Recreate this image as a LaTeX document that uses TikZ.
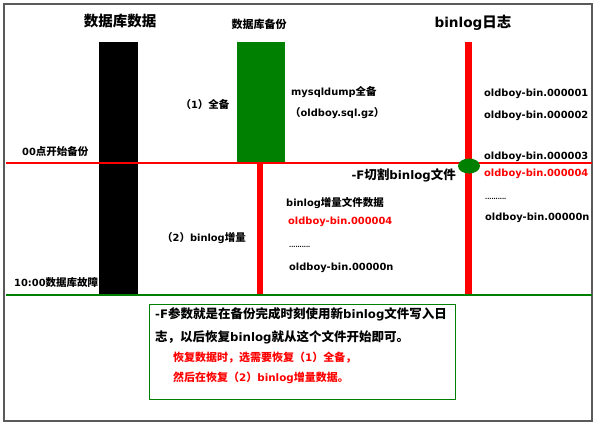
\documentclass[tikz,border=0pt]{standalone}
\usepackage{fontspec}
\setmainfont{Noto Sans CJK SC}
\newfontfamily\lat{DejaVu Sans}[Scale=0.94]
\usetikzlibrary{positioning,shapes.geometric}

\definecolor{dkgreen}{RGB}{0,128,0}
\definecolor{frame}{RGB}{90,90,90}

\begin{document}
\begin{tikzpicture}[x=1pt,y=-1pt]

\tikzset{
    txt/.style={font=\bfseries\fontsize{10.5}{12}\selectfont, inner sep=0pt},
    lefttxt/.style={txt, anchor=west},
    bigtxt/.style={font=\bfseries\fontsize{14.5}{17}\selectfont, inner sep=0pt},
    notetxt/.style={font=\bfseries\fontsize{12.5}{14}\selectfont, inner sep=0pt, anchor=west},
    redtxt/.style={font=\bfseries\fontsize{11}{13}\selectfont, inner sep=0pt, anchor=west, text=red},
    dots/.style={lefttxt, font=\bfseries\fontsize{6}{7}\selectfont},
    bar/.style={inner sep=0pt, anchor=north west},
    redline/.style={draw=red, line width=#1},
    greenline/.style={draw=dkgreen, line width=2pt}
}
\useasboundingbox (0,0) rectangle (597,426);
\draw[frame, line width=1.6pt] (4,4) rectangle (592,421);

% the two bars
\node[bar, fill=black, minimum width=39, minimum height=252] (dbbar) at (99,42) {};
\node[bar, fill=dkgreen, minimum width=48, minimum height=120] (bakbar) at (237,42) {};

% time lines and binlog lines
\coordinate (startL) at (6,163);
\coordinate (startR) at (592,163);
\coordinate (failL) at (6,295);
\coordinate (failR) at (592,295);
\coordinate (midtop) at (260,163);
\coordinate (midbot) at (260,294);
\coordinate (logtop) at (468,42);
\coordinate (logbot) at (468,294);
\draw[redline=6pt] (midtop) -- (midbot);
\draw[redline=7pt] (logtop) -- (logbot);
\draw[redline=2.2pt] (startL) -- (startR);
\draw[greenline] (failL) -- (failR);
\node[ellipse, fill=dkgreen, minimum width=22, minimum height=15, inner sep=0pt] (cut) at (469,166) {};

% titles
\node[bigtxt] (dbtitle) at (120,21) {数据库数据};
\node[txt, font=\bfseries\fontsize{11}{12}\selectfont] (baktitle) at (259,24) {数据库备份};
\node[bigtxt] (logtitle) at (473,23) {{\lat binlog}日志};

% left column
\node[lefttxt] (start) at (22,152) {{\lat 00}点开始备份};
\node[lefttxt] (fail) at (14,282) {{\lat 10:00}数据库故障};
\node[txt] (full) at (205,105) {（{\lat 1}）全备};
\node[txt] (incr) at (204,238) {（{\lat 2}）{\lat binlog}增量};

% backup file
\node[lefttxt] (dump) at (291,92) {{\lat mysqldump}全备};
\node[lefttxt] (dumpfile) at (290,113) {（{\lat oldboy.sql.gz}）};

% incremental files
\node[txt, anchor=east, font=\bfseries\fontsize{12.5}{14}\selectfont] (cuttxt) at (456,175) {{\lat -F}切割{\lat binlog}文件};
\node[lefttxt] (incrhead) at (286,203) {{\lat binlog}增量文件数据};
\node[lefttxt, text=red] (incr4) at (288,222) {\lat oldboy-bin.000004};
\node[dots] (incrdots) at (289,247) {..........};
\node[lefttxt] (incrn) at (289,268) {\lat oldboy-bin.00000n};

% binlog files
\node[lefttxt] (log1) at (484,94) {\lat oldboy-bin.000001};
\node[lefttxt] (log2) at (484,116) {\lat oldboy-bin.000002};
\node[lefttxt] (log3) at (484,157) {\lat oldboy-bin.000003};
\node[lefttxt, text=red] (log4) at (484,174) {\lat oldboy-bin.000004};
\node[dots] (logdots) at (485,199) {..........};
\node[lefttxt] (logn) at (485,218) {\lat oldboy-bin.00000n};

% note
\node[bar, draw=dkgreen, line width=1.2pt, minimum width=306, minimum height=95] (note) at (149,304) {};
\node[notetxt] (note1) at (155,314) {{\lat -F}参数就是在备份完成时刻使用新{\lat binlog}文件写入日};
\node[notetxt] (note2) at (155,337) {志，以后恢复{\lat binlog}就从这个文件开始即可。};
\node[redtxt] (note3) at (173,358) {恢复数据时，选需要恢复（{\lat 1}）全备，};
\node[redtxt] (note4) at (173,378) {然后在恢复（{\lat 2}）{\lat binlog}增量数据。};
\end{tikzpicture}
\end{document}
